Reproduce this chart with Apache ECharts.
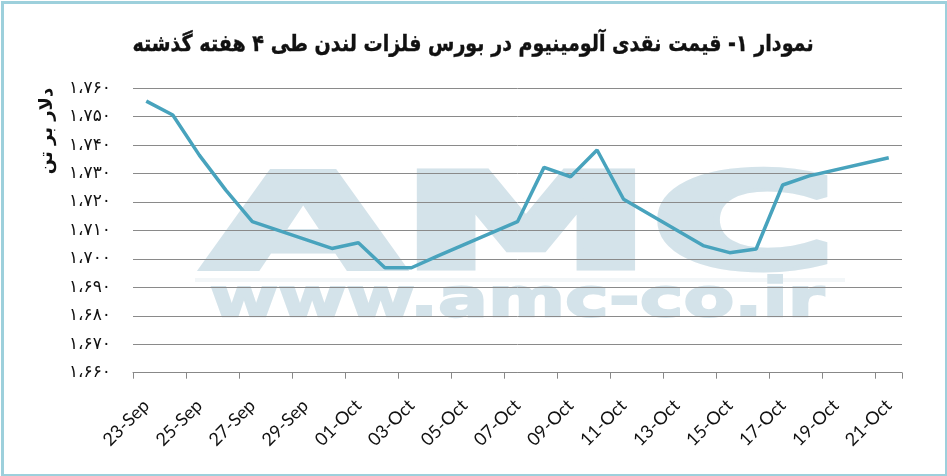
<!DOCTYPE html>
<html>
<head>
<meta charset="utf-8">
<script src="https://cdn.jsdelivr.net/npm/echarts@6/dist/echarts.min.js"></script>
<style>
html,body{margin:0;padding:0;background:#fff;}
#c{width:947px;height:476px;}
</style>
</head>
<body>
<div id="c"></div>
<script>
const titleText = 'نمودار ۱- قیمت نقدی آلومینیوم در بورس فلزات لندن طی ۴ هفته گذشته';
const yAxisTitle = 'دلار بر تن';
const dates = ['23-Sep','24-Sep','25-Sep','26-Sep','27-Sep','28-Sep','29-Sep','30-Sep',
  '01-Oct','02-Oct','03-Oct','04-Oct','05-Oct','06-Oct','07-Oct','08-Oct','09-Oct','10-Oct',
  '11-Oct','12-Oct','13-Oct','14-Oct','15-Oct','16-Oct','17-Oct','18-Oct','19-Oct','20-Oct','21-Oct'];
const prices = [1755.5,1750.6,1736.5,1724.2,1713.1,null,null,1703.7,
  1705.7,1696.9,1696.9,1701.1,null,null,1713.1,1732.2,1728.9,1738.3,
  1721.0,null,null,1704.7,1702.2,1703.5,1726.0,1729.2,null,null,1735.6];
const yMin = 1660, yMax = 1760, yStep = 10;
const watermarkBig = 'AMC';
const watermarkSmall = 'www.amc-co.ir';

const faDigits = ['۰','۱','۲','۳','۴','۵','۶','۷','۸','۹'];
function toFa(n){
  const s = String(Math.round(n));
  const withSep = s.length > 3 ? s.slice(0, s.length-3) + '،' + s.slice(s.length-3) : s;
  return withSep.replace(/[0-9]/g, d => faDigits[+d]);
}

const chart = echarts.init(document.getElementById('c'), null, {renderer:'canvas'});
const wmColor = '#d4e3ea';
chart.setOption({
  animation: false,
  backgroundColor: '#ffffff',
  graphic: [
    {type:'rect', left:0, top:0, z:100, shape:{x:1.5,y:1.5,width:944,height:473},
     style:{fill:'none', stroke:'#9dd0dc', lineWidth:3}, silent:true},
    {type:'text', x:473, y:45, scaleX:0.83, scaleY:1, silent:true,
     style:{text: titleText, x:0, y:0, align:'center', verticalAlign:'middle',
       font:'bold 23px "DejaVu Sans"', fill:'#111', stroke:'#111', lineWidth:0.4}},
    {type:'text', x:521, y:233, scaleX:1.94, scaleY:1, z:-1, silent:true,
     style:{text: watermarkBig, x:0, y:0, align:'center', verticalAlign:'middle',
       font:'bold 130px "DejaVu Sans"', fill: wmColor, stroke: wmColor, lineWidth: 7}},
    {type:'rect', z:-1, silent:true, shape:{x:195,y:278,width:650,height:4}, style:{fill:'#f2f6f8'}},
    {type:'text', x:517, y:302, scaleX:1.37, scaleY:1, z:-1, silent:true,
     style:{text: watermarkSmall, x:0, y:0, align:'center', verticalAlign:'middle',
       font:'bold 54px "DejaVu Sans"', fill: wmColor, stroke: wmColor, lineWidth: 2}},
    {type:'text', x:47, y:131, rotation: Math.PI/2, silent:true,
     style:{text: yAxisTitle, x:0, y:0, align:'center', verticalAlign:'middle',
       font:'bold 18px "DejaVu Sans"', fill:'#111'}}
  ],
  grid: {left:133, right:45, top:88.3, bottom:103.3, containLabel:false},
  xAxis: {
    type:'category',
    data: dates,
    boundaryGap: true,
    axisLine: {show:true, lineStyle:{color:'#888', width:1}},
    axisTick: {show:true, interval:1, alignWithLabel:false, length:6, inside:false, lineStyle:{color:'#888'}},
    axisLabel: {interval:1, rotate:45, fontFamily:'Lato', fontSize:18, color:'#111', margin:30},
    splitLine: {show:false}
  },
  yAxis: {
    type:'value',
    min: yMin, max: yMax, interval: yStep,
    axisLine: {show:false},
    axisTick: {show:false},
    axisLabel: {formatter: v => toFa(v), fontFamily:'DejaVu Sans', fontSize:17, color:'#111', margin:22},
    splitLine: {show:true, lineStyle:{color:'#8a8a8a', width:1}}
  },
  series: [{
    type:'line',
    data: prices,
    connectNulls: true,
    symbol:'none',
    lineStyle:{color:'#48a3bd', width:3.5},
    z: 5
  }]
});
</script>
</body>
</html>
